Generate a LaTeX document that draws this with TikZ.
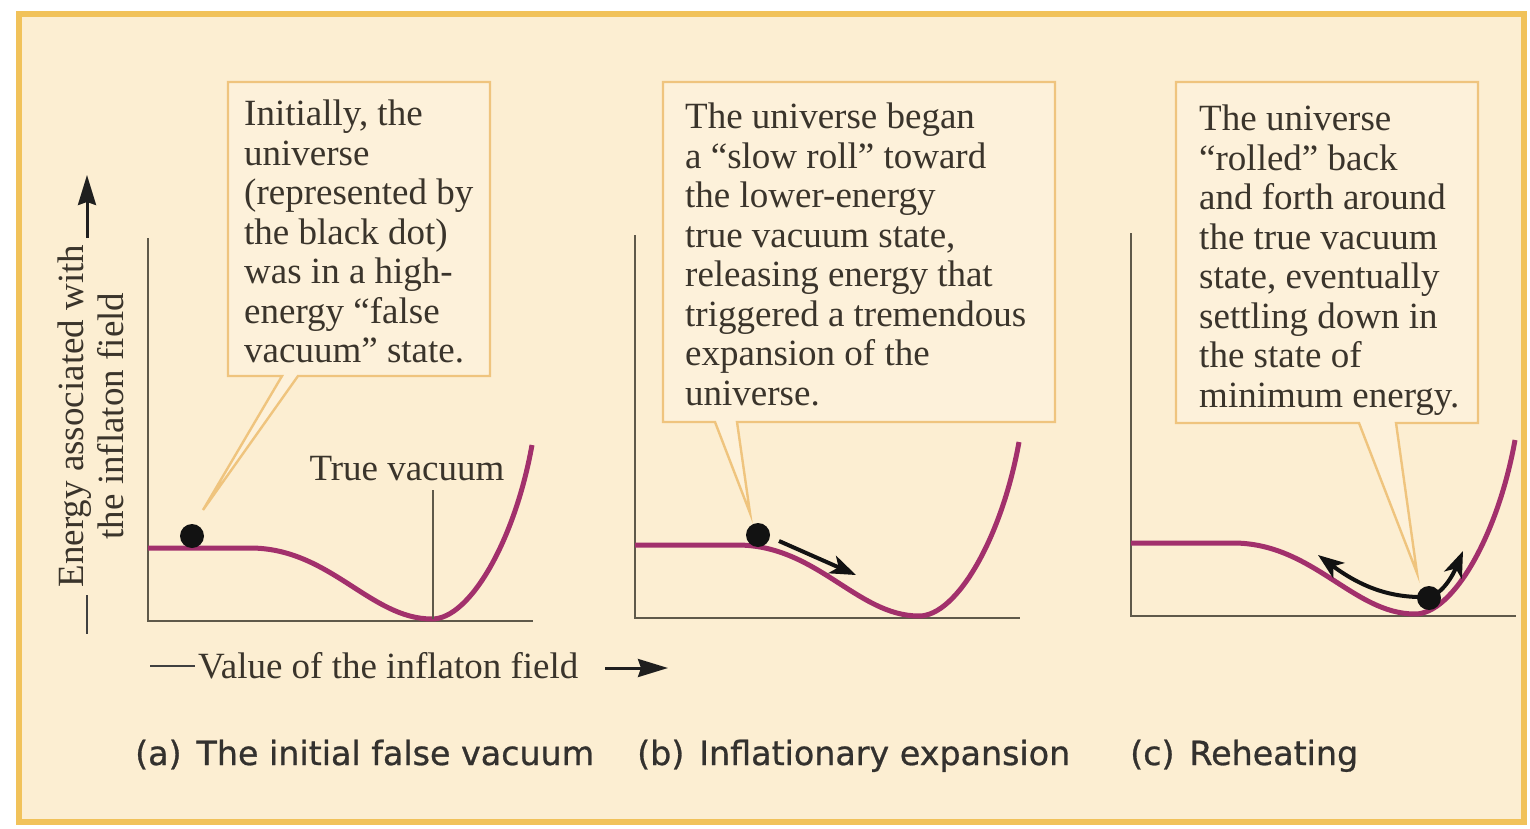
\documentclass[tikz,border=0pt]{standalone}
\usepackage{fontspec}
\setmainfont{Liberation Serif}
\newfontfamily\capfont[FakeBold=0.8]{DejaVu Sans}
\usetikzlibrary{arrows.meta}
\definecolor{cream}{HTML}{FCEED2}
\definecolor{gold}{HTML}{F1C25A}
\definecolor{boxline}{HTML}{EFC47E}
\definecolor{boxfill}{HTML}{FDF1DA}
\definecolor{axiscol}{HTML}{5F594A}
\definecolor{curvecol}{HTML}{A2306C}
\definecolor{txt}{HTML}{3A342B}
\definecolor{captxt}{HTML}{33312E}
\newcommand\mybody{\fontsize{37}{39.5}\selectfont}
\newcommand\mycap{\capfont\fontsize{33.3}{36}\selectfont}
\tikzset{
  axisline/.style={draw=axiscol, line width=2.8pt},
  wellcurve/.style={draw=curvecol, line width=5pt},
  callout/.style={draw=boxline, fill=boxfill, line width=2.4pt, line join=miter},
  bodytext/.style={text=txt, font=\mybody, align=left, inner sep=0pt, anchor=north west},
  captext/.style={text=captxt, font=\mycap, inner sep=0pt, anchor=base west},
  ball/.style={circle, fill=black!93, minimum size=24pt, inner sep=0pt},
  ballarrow/.style={draw=black!93, line width=4pt, -{Stealth[length=26pt,width=19pt,inset=7pt]}},
  axisarrow/.style={draw=black!88, line width=3pt, -{Stealth[length=30pt,width=18pt,inset=3pt]}},
  plaindash/.style={draw=black!75, line width=2.6pt},
  well/.pic={
    \draw[axisline] (0,-383) -- (0,0) -- (385,0);
    \draw[wellcurve] (0,-73) -- (102,-73) .. controls (182,-73) and (222,-2) .. (284,-2)
      .. controls (322,-2) and (367,-81) .. (384,-176);
  }
}
\begin{document}
\begin{tikzpicture}[x=1pt,y=-1pt]
\useasboundingbox (0,0) rectangle (1530,829);
\fill[white] (0,0) rectangle (1530,829);
\draw[gold, line width=6pt, fill=cream] (19,14) rectangle (1524,822);

% wells
\pic at (148,621) {well};
\pic at (635,618) {well};
\pic at (1131,616) {well};

% true vacuum marker
\coordinate (tvtop) at (433,490);
\coordinate (tvbot) at (433,619);
\draw[axiscol, line width=1.8pt] (tvtop) -- (tvbot);
\node[text=txt, font=\mybody, inner sep=0pt, anchor=base] (tv) at (407,480) {True vacuum};

% callouts
\draw[callout] (228,82) -- (490,82) -- (490,376) -- (298,376) -- (203,510) -- (282,376) -- (228,376) -- cycle;
\draw[callout] (663,82) -- (1055,82) -- (1055,422) -- (737,422) -- (750,513) -- (715,422) -- (663,422) -- cycle;
\draw[callout] (1176,82) -- (1478,82) -- (1478,423) -- (1396,423) -- (1417,573) -- (1359,423) -- (1176,423) -- cycle;

\node[bodytext] (ta) at (244,100) {Initially, the\\universe\\(represented by\\the black dot)\\was in a high-\\energy “false\\vacuum” state.};
\node[bodytext] (tb) at (685,103) {The universe began\\a “slow roll” toward\\the lower-energy\\true vacuum state,\\releasing energy that\\triggered a tremendous\\expansion of the\\universe.};
\node[bodytext] (tc) at (1199,105) {The universe\\“rolled” back\\and forth around\\the true vacuum\\state, eventually\\settling down in\\the state of\\minimum energy.};

% panel b arrow
\coordinate (bs) at (779,541);
\coordinate (be) at (856,575);
\draw[ballarrow] (bs) -- (be);

% panel c double arrow
\coordinate (cl) at (1318,555);
\coordinate (cm) at (1428,597);
\coordinate (cr) at (1463,551);
\draw[draw=black!93, line width=4pt, {Stealth[length=26pt,width=19pt,inset=7pt]}-{Stealth[length=26pt,width=19pt,inset=7pt]}]
  (cl) .. controls (1365,590) and (1395,598) .. (cm) .. controls (1442,595) and (1453,575) .. (cr);

% balls
\node[ball] (dota) at (192,536) {};
\node[ball] (dotb) at (758,535) {};
\node[ball] (dotc) at (1429,598) {};

% y axis label
\node[rotate=90, text=txt, font=\mybody, align=center, inner sep=0pt] (ylab) at (91,416) {Energy associated with\\the inflaton field};
\coordinate (ya0) at (87,238);
\coordinate (ya1) at (87,175);
\draw[axisarrow] (ya0) -- (ya1);
\coordinate (yd0) at (87,595);
\coordinate (yd1) at (87,634);
\draw[plaindash] (yd0) -- (yd1);

% x axis label
\coordinate (xd0) at (150,666);
\coordinate (xd1) at (195,666);
\draw[plaindash] (xd0) -- (xd1);
\node[text=txt, font=\mybody, inner sep=0pt, anchor=base west] (xlab) at (198,678) {Value of the inflaton field};
\coordinate (xa0) at (605,668);
\coordinate (xa1) at (668,668);
\draw[axisarrow] (xa0) -- (xa1);

% captions
\node[captext] (capa) at (135,765) {(a)\hspace{0.45em}The initial false vacuum};
\node[captext] (capb) at (637,765) {(b)\hspace{0.45em}Inflationary expansion};
\node[captext] (capc) at (1130,765) {(c)\hspace{0.45em}Reheating};
\end{tikzpicture}
\end{document}
